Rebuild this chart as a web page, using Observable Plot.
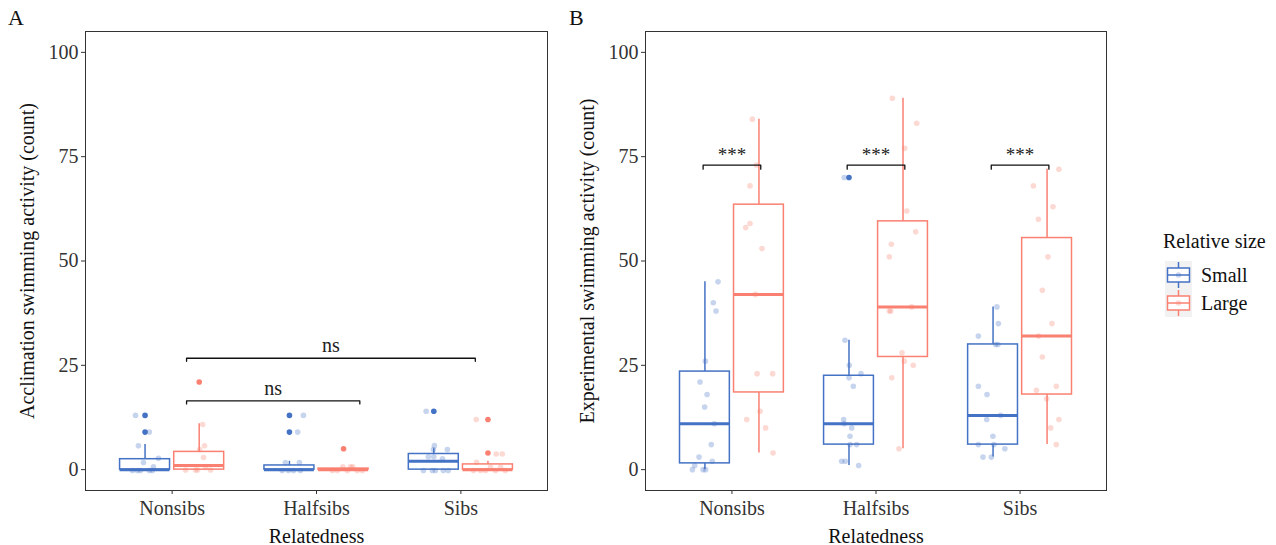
<!DOCTYPE html>
<html>
<head>
<meta charset="utf-8">
<script src="https://cdn.jsdelivr.net/npm/d3@7"></script>
<script src="https://cdn.jsdelivr.net/npm/@observablehq/plot@0.6"></script>
<style>
  body { margin: 0; background: #fff; font-family: "Liberation Serif", "Times New Roman", serif; }
  #wrap { position: relative; width: 1276px; height: 545px; overflow: hidden; }
  .panel { position: absolute; top: 0; }
  .tag { position: absolute; top: 7px; font-size: 22px; line-height: 22px; color: #111; font-family: "Liberation Serif", "Times New Roman", serif; }
  svg text { font-family: "Liberation Serif", "Times New Roman", serif; }
</style>
</head>
<body>
<div id="wrap"></div>
<script>
// ---------- data ----------
const relatedness = ["Nonsibs", "Halfsibs", "Sibs"];
const sizes = ["Small", "Large"];
const sizeColors = ["#4472C4", "#FA8072"];
const yTicks = [0, 25, 50, 75, 100];
const yLabelA = "Acclimation swimming activity (count)";
const yLabelB = "Experimental swimming activity (count)";
const xLabel = "Relatedness";
const legendTitle = "Relative size";

// Box statistics; group order: Nonsibs-Small, Nonsibs-Large, Halfsibs-Small, Halfsibs-Large, Sibs-Small, Sibs-Large
const accLower  = [0, 0, 0, 0, 0, 0];
const accQ1     = [0, 0, 0, 0, 0, 0];
const accMedian = [0, 1, 0, 0, 2, 0];
const accQ3     = [2.5, 4.25, 1, 0.25, 3.75, 1.25];
const accUpper  = [6, 11, 2, 0.25, 5, 2];
const accOutliers = [[0, 13], [0, 9], [1, 21], [2, 13], [2, 9], [3, 5], [4, 14], [5, 12], [5, 4]]; // [group, value]

const expLower  = [0, 4, 1, 5, 3, 6];
const expQ1     = [1.5, 18.5, 6, 27, 6, 18];
const expMedian = [11, 42, 11, 39, 13, 32];
const expQ3     = [23.5, 63.5, 22.5, 59.5, 30, 55.5];
const expUpper  = [45, 84, 31, 89, 39, 72];
const expOutliers = [[2, 70]];

// Jittered observations: [value, horizontal jitter]
const accNonsibsSmall  = [[13,-0.066],[9,0.03],[5.7,-0.046],[2.7,0.093],[1.7,-0.011],[0.7,0.058],[-0.2,-0.087],[-0.2,-0.032],[-0.2,0.03],[-0.2,0.051],[-0.2,-0.053]];
const accNonsibsLarge  = [[10.8,0.024],[5.7,0.037],[4.8,0.003],[2.9,0.03],[0.5,0.044],[-0.1,-0.094],[-0.1,-0.025],[-0.1,-0.011],[-0.1,0.079]];
const accHalfsibsSmall = [[13,0.097],[9,0.057],[1.7,-0.028],[1.7,0.069],[-0.2,-0.05],[-0.2,-0.007],[-0.2,0.028],[-0.2,0.076]];
const accHalfsibsLarge = [[0.7,-0.005],[0.7,0.048],[0.7,0.064],[-0.2,-0.078],[-0.2,-0.044],[-0.2,0.026],[-0.2,0.095],[-0.2,0.13]];
const accSibsSmall     = [[14,-0.053],[5.75,0.004],[4.8,-0.003],[4.8,0.094],[3.1,-0.038],[3.1,0.0],[2.6,0.06],[-0.2,-0.072],[-0.2,-0.01],[-0.2,0.011],[-0.2,0.066],[-0.2,0.1]];
const accSibsLarge     = [[12,-0.081],[3.75,0.057],[3.75,0.099],[1.75,-0.079],[0.6,0.018],[0.6,0.087],[-0.2,-0.1],[-0.2,-0.051],[-0.2,-0.017],[-0.2,0.053],[-0.2,0.12]];

const expNonsibsSmall  = [[45,0.091],[40,0.058],[38,0.077],[26,0.003],[21,-0.034],[18,0.015],[15,-0.002],[11,0.065],[6,0.044],[3,-0.041],[2,0.051],[1,-0.071],[0,-0.087],[0,-0.013],[0,0.005]];
const expNonsibsLarge  = [[84,-0.046],[73,-0.018],[68,-0.062],[59,-0.062],[58,-0.092],[53,0.021],[42,-0.025],[23,-0.013],[23,0.095],[14,0.008],[12,-0.085],[10,0.046],[4,0.098]];
const expHalfsibsSmall = [[70,-0.033],[31,-0.028],[25,0.002],[23,0.083],[22,0],[20,0.03],[12,-0.037],[11,-0.033],[10,0.019],[8,0.007],[6,0.007],[6,0.053],[2,-0.051],[2,-0.026],[1,0.067]];
const expHalfsibsLarge = [[89,-0.074],[83,0.095],[77,0.012],[62,0.026],[57,0.088],[54,-0.081],[51,-0.095],[39,0.06],[38,-0.095],[38,-0.085],[28,-0.007],[26,0.009],[25,0.071],[22,-0.078],[5,-0.028]];
const expSibsSmall     = [[39,0.027],[35,0.037],[32,-0.102],[30,0.018],[30,0.034],[20,-0.102],[18,-0.042],[13,0.053],[12,-0.044],[8,-0.001],[6,-0.102],[6,0.006],[5,0.082],[3,-0.07],[3,-0.012]];
const expSibsLarge     = [[72,0.082],[68,-0.095],[63,0.041],[60,-0.06],[51,0.006],[43,-0.033],[35,0.034],[32,-0.058],[27,-0.033],[20,0.064],[19,-0.074],[17,-0.003],[12,0.082],[10,0.025],[6,0.064]];

// Significance brackets
const accBracketMin = [1.1, 1.1];
const accBracketMax = [2.3, 3.1];
const accBracketY   = [16.5, 26.7];
const accBracketLab = ["ns", "ns"];
const expBracketMin = [0.8, 1.8, 2.8];
const expBracketMax = [1.2, 2.2, 3.2];
const expBracketY   = [73, 73, 73];
const expBracketLab = ["***", "***", "***"];

// ---------- build ----------
const FONT = '"Liberation Serif", "Times New Roman", serif';
const DODGE = 0.1875, HALFW = 0.173;
function groupPos(g) { return Math.floor(g / 2) + 1 + (g % 2 ? DODGE : -DODGE); }
function groupSize(g) { return sizes[g % 2]; }

function makePanel(cfg) {
  const boxes = d3.range(6).map(g => ({
    pos: groupPos(g), size: groupSize(g),
    lo: cfg.lower[g], q1: cfg.q1[g], med: cfg.median[g], q3: cfg.q3[g], hi: cfg.upper[g]
  }));
  const outliers = cfg.outliers.map(([g, v]) => ({pos: groupPos(g), size: groupSize(g), value: v}));
  const points = cfg.points.flatMap((arr, g) => arr.map(([v, j]) => ({pos: groupPos(g) + j, size: groupSize(g), value: v})));
  const brackets = cfg.bMin.map((x1, i) => ({x1, x2: cfg.bMax[i], y: cfg.bY[i], label: cfg.bLab[i], id: i}));
  const bracketPath = brackets.flatMap(b => [
    {id: b.id, x: b.x1, y: b.y - cfg.tip},
    {id: b.id, x: b.x1, y: b.y},
    {id: b.id, x: b.x2, y: b.y},
    {id: b.id, x: b.x2, y: b.y - cfg.tip}
  ]);
  return Plot.plot({
    width: 560, height: 545,
    marginLeft: 85, marginRight: cfg.marginRight, marginTop: 31, marginBottom: 55,
    style: {fontFamily: FONT, fontSize: "20px", color: "#333", background: "white"},
    x: {type: "linear", domain: [0.4, 3.6], axis: null},
    y: {domain: [-5, 105], axis: null},
    color: {domain: sizes, range: sizeColors},
    marks: [
      Plot.ruleX(boxes, {x: "pos", y1: "lo", y2: "q1", stroke: "size", strokeWidth: 1.5}),
      Plot.ruleX(boxes, {x: "pos", y1: "q3", y2: "hi", stroke: "size", strokeWidth: 1.5}),
      Plot.rect(boxes, {x1: d => d.pos - HALFW, x2: d => d.pos + HALFW, y1: "q1", y2: "q3", fill: "white", stroke: "size", strokeWidth: 1.5}),
      Plot.ruleY(boxes, {y: "med", x1: d => d.pos - HALFW, x2: d => d.pos + HALFW, stroke: "size", strokeWidth: 3}),
      Plot.dot(outliers, {x: "pos", y: "value", fill: "size", r: 2.8}),
      Plot.dot(points, {x: "pos", y: "value", fill: "size", fillOpacity: 0.3, r: 2.8}),
      Plot.line(bracketPath, {x: "x", y: "y", z: "id", stroke: "#111", strokeWidth: 1.3}),
      Plot.text(brackets, {x: d => (d.x1 + d.x2) / 2, y: "y", text: "label", lineAnchor: "bottom", dy: cfg.labDy, fontSize: cfg.labSize, fill: "#222"}),
      Plot.frame({stroke: "#333", strokeWidth: 1}),
      Plot.axisX({ticks: [1, 2, 3], tickFormat: d => relatedness[d - 1], tickSize: 4, tickPadding: 6, label: null, color: "#333"}),
      Plot.axisY({ticks: yTicks, tickSize: 4, tickPadding: 3, label: null, color: "#333"}),
      Plot.text([cfg.yLabel], {text: d => d, frameAnchor: "left", dx: -58, rotate: -90, textAnchor: "middle", lineAnchor: "middle", fill: "#111", fontSize: 20}),
      Plot.text([xLabel], {text: d => d, frameAnchor: "bottom", dy: 52, textAnchor: "middle", lineAnchor: "bottom", fill: "#111", fontSize: 20})
    ]
  });
}

const wrap = document.getElementById("wrap");

const panelA = makePanel({
  lower: accLower, q1: accQ1, median: accMedian, q3: accQ3, upper: accUpper, outliers: accOutliers,
  points: [accNonsibsSmall, accNonsibsLarge, accHalfsibsSmall, accHalfsibsLarge, accSibsSmall, accSibsLarge],
  bMin: accBracketMin, bMax: accBracketMax, bY: accBracketY, bLab: accBracketLab, tip: 0.75, labDy: -6, labSize: 20,
  yLabel: yLabelA, marginRight: 13
});
const panelB = makePanel({
  lower: expLower, q1: expQ1, median: expMedian, q3: expQ3, upper: expUpper, outliers: expOutliers,
  points: [expNonsibsSmall, expNonsibsLarge, expHalfsibsSmall, expHalfsibsLarge, expSibsSmall, expSibsLarge],
  bMin: expBracketMin, bMax: expBracketMax, bY: expBracketY, bLab: expBracketLab, tip: 1, labDy: -4, labSize: 19,
  yLabel: yLabelB, marginRight: 14
});

const dA = document.createElement("div"); dA.className = "panel"; dA.style.left = "0px"; dA.appendChild(panelA); wrap.appendChild(dA);
const dB = document.createElement("div"); dB.className = "panel"; dB.style.left = "560px"; dB.appendChild(panelB); wrap.appendChild(dB);

const tA = document.createElement("div"); tA.className = "tag"; tA.style.left = "8px"; tA.textContent = "A"; wrap.appendChild(tA);
const tB = document.createElement("div"); tB.className = "tag"; tB.style.left = "569px"; tB.textContent = "B"; wrap.appendChild(tB);

// ---------- legend ----------
const leg = d3.select(wrap).append("svg")
  .attr("width", 156).attr("height", 545)
  .style("position", "absolute").style("left", "1120px").style("top", "0px")
  .style("font-family", FONT);
leg.append("text").attr("x", 43).attr("y", 248).attr("font-size", 20).attr("fill", "#111").text(legendTitle);
sizes.forEach((s, i) => {
  const top = 261 + i * 28, cx = 58.5, col = sizeColors[i];
  const g = leg.append("g");
  g.append("rect").attr("x", 45).attr("y", top).attr("width", 27).attr("height", 28).attr("fill", "#F2F2F2");
  g.append("line").attr("x1", cx).attr("x2", cx).attr("y1", top + 1).attr("y2", top + 7).attr("stroke", col).attr("stroke-width", 1.5);
  g.append("line").attr("x1", cx).attr("x2", cx).attr("y1", top + 21).attr("y2", top + 27).attr("stroke", col).attr("stroke-width", 1.5);
  g.append("rect").attr("x", 47.5).attr("y", top + 7).attr("width", 22).attr("height", 14).attr("fill", "white").attr("stroke", col).attr("stroke-width", 1.5);
  g.append("line").attr("x1", 47.5).attr("x2", 69.5).attr("y1", top + 14).attr("y2", top + 14).attr("stroke", col).attr("stroke-width", 1.5);
  g.append("circle").attr("cx", cx).attr("cy", top + 14).attr("r", 2.8).attr("fill", col).attr("fill-opacity", 0.3);
  leg.append("text").attr("x", 81).attr("y", top + 21).attr("font-size", 20).attr("fill", "#111").text(s);
});
</script>
</body>
</html>
